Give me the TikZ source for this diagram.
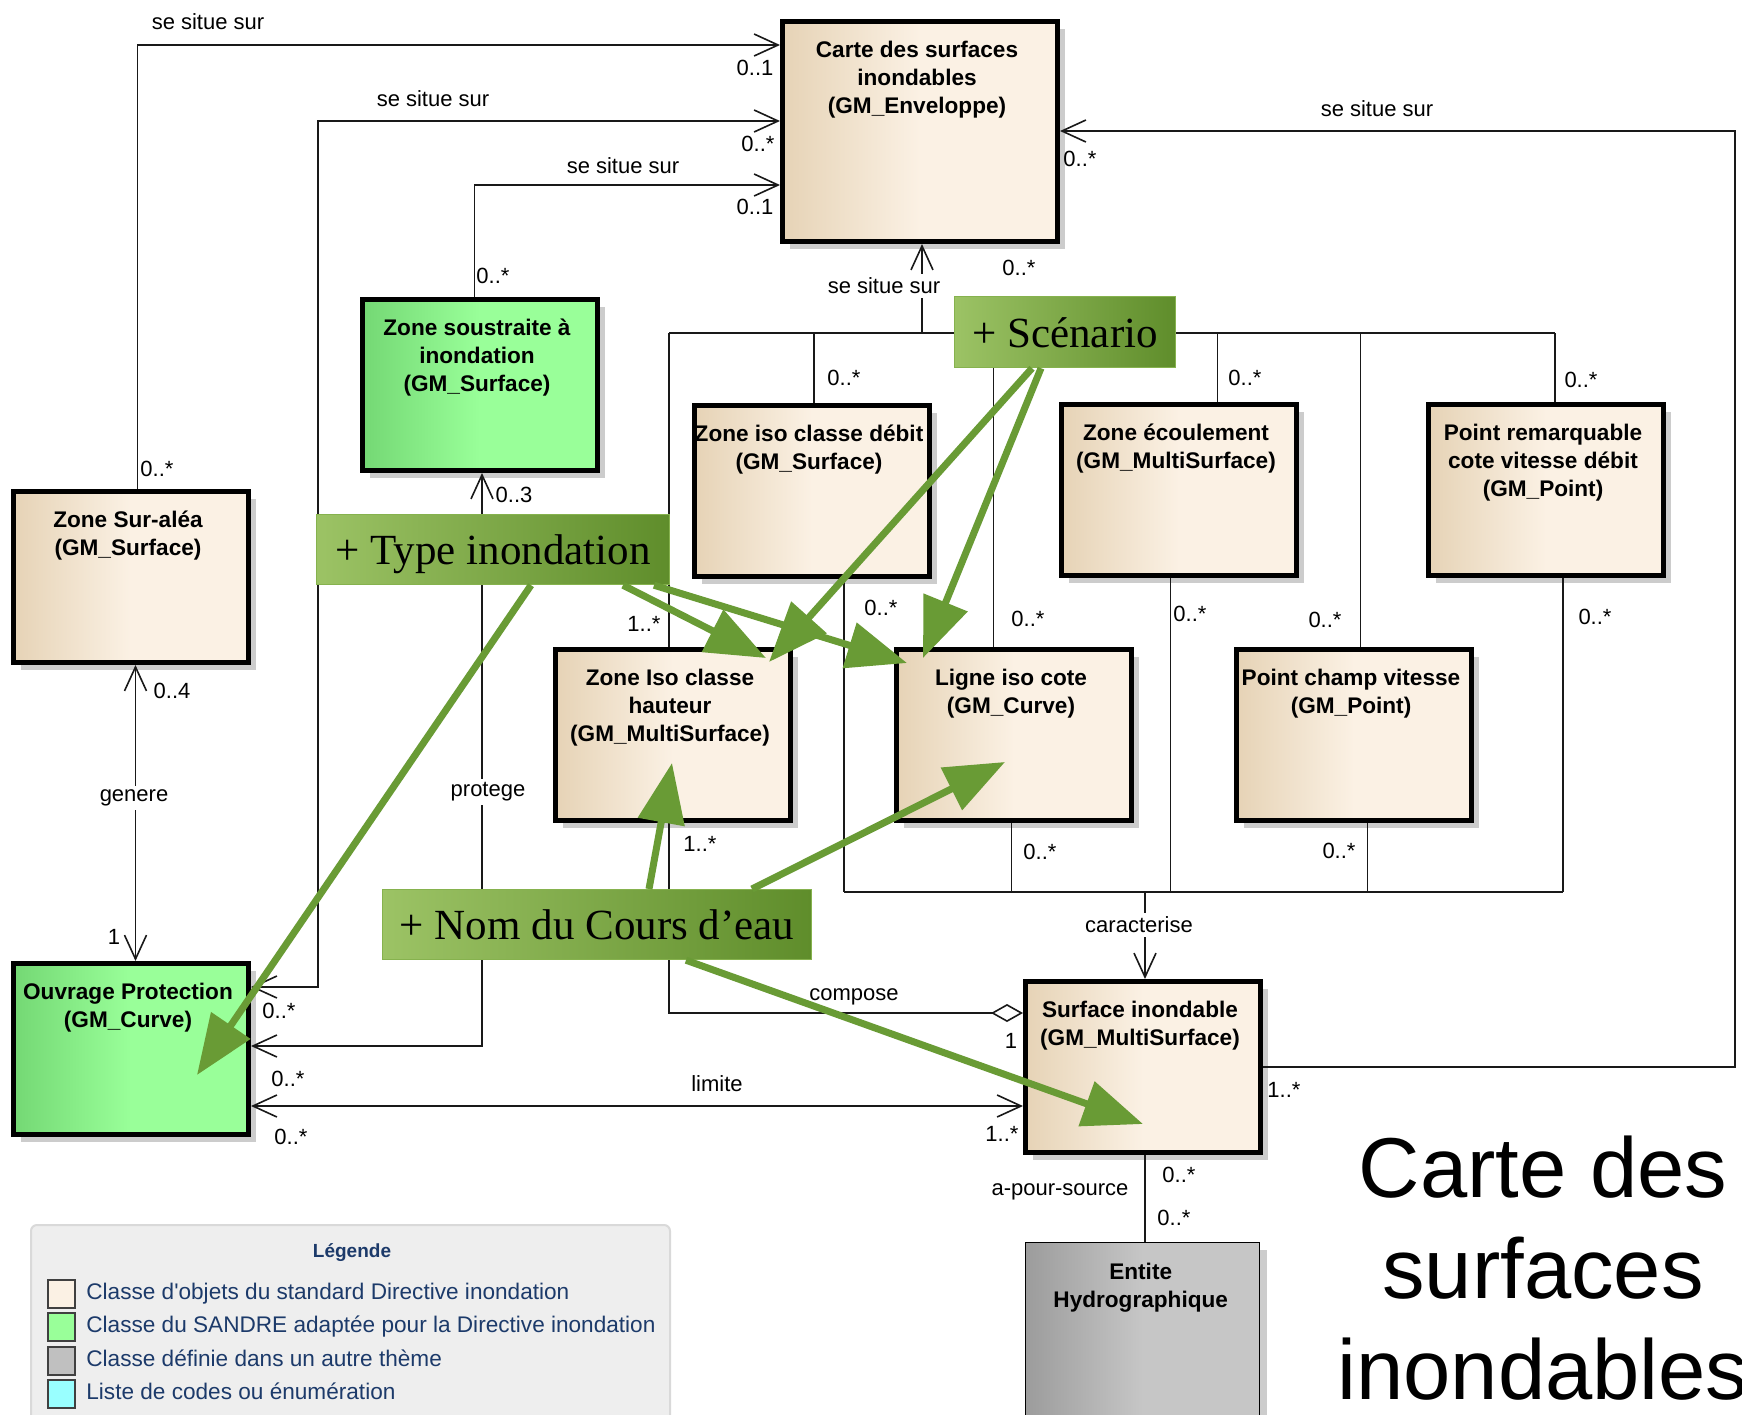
\documentclass[tikz,border=0pt]{standalone}
\usepackage{fontspec}
\setmainfont{Liberation Sans}[Ligatures=TeXOff]
\newfontfamily\greenfont{Liberation Serif}
\usetikzlibrary{arrows.meta,shadows,calc}
\definecolor{tanL}{HTML}{E6D3B6}
\definecolor{cream}{HTML}{FBF1E4}
\definecolor{sgreenL}{HTML}{74D874}
\definecolor{sgreen}{HTML}{99FF99}
\definecolor{grayL}{HTML}{9C9C9C}
\definecolor{grayR}{HTML}{C6C6C6}
\definecolor{annoL}{HTML}{9CC365}
\definecolor{annoR}{HTML}{5F8D2B}
\definecolor{annoEdge}{HTML}{86B24E}
\definecolor{garrow}{HTML}{699B35}
\definecolor{navy}{HTML}{1C3A6A}
\definecolor{legfill}{HTML}{EEEEEE}
\definecolor{legedge}{HTML}{D9D9D9}
\definecolor{cyanbox}{HTML}{99FFFF}
\definecolor{swgray}{HTML}{C0C0C0}
\newcommand\fst{\rule{0pt}{10.5pt}}
\begin{document}
\begin{tikzpicture}[x=0.5pt,y=-0.5pt,
  cls/.style={draw=black, line width=2.5pt, anchor=north west, minimum width=117.5pt, minimum height=85.5pt, inner sep=0pt, left color=tanL, right color=cream, middle color=cream, drop shadow={shadow xshift=3.5pt,shadow yshift=-3.5pt,fill=black!20,opacity=1}},
  clsgreen/.style={cls, left color=sgreenL, right color=sgreen, middle color=sgreen},
  clsgray/.style={cls, line width=0.7pt, left color=grayL, right color=grayR, middle color=grayR},
  ctext/.style={anchor=north, align=center, inner sep=0pt, font=\bfseries\fontsize{11.3}{14}\selectfont},
  lab/.style={font=\fontsize{11}{13}\selectfont, inner sep=1pt},
  labw/.style={lab, fill=white, inner sep=2pt},
  line/.style={draw=black!90, line width=0.8pt},
  uml/.style={line, -{Straight Barb[length=12pt,width=11pt]}},
  uml2/.style={line, {Straight Barb[length=12pt,width=11pt]}-{Straight Barb[length=12pt,width=11pt]}},
  comp/.style={line, -{Diamond[open,length=16pt,width=9pt]}},
  gbox/.style={draw=annoEdge, line width=0.6pt, anchor=north west, inner sep=0pt, left color=annoL, right color=annoR, text height=15pt, text depth=0pt, font=\greenfont\fontsize{21.5}{24}\selectfont, text=black},
  garr/.style={draw=garrow, line width=3.5pt, -{Triangle[length=30pt,width=23pt]}},
  swatch/.style={draw=black!75, line width=0.8pt, minimum width=13.5pt, minimum height=14pt, inner sep=0pt},
  legtext/.style={anchor=west, inner sep=0pt, text=navy, text height=8pt, text depth=2.3pt, font=\fontsize{11.3}{13}\selectfont}
]
\fill[white] (0,0) rectangle (1742,1415);
\useasboundingbox (0,0) rectangle (1742,1415);

% ---------- legend and title
\node[draw=legedge, fill=legfill, line width=1pt, rounded corners=3pt, anchor=north west, minimum width=319.5pt, minimum height=110pt, inner sep=0pt] (legend) at (30,1224) {};
\node[font=\bfseries\fontsize{9.5}{11}\selectfont, text=navy] (legt) at (352,1253) {Légende};
\node[swatch, fill=cream] (sw1) at (61.5,1294) {};
\node[swatch, fill=sgreen] (sw2) at (61.5,1327) {};
\node[swatch, fill=swgray] (sw3) at (61.5,1361) {};
\node[swatch, fill=cyanbox] (sw4) at (61.5,1394) {};
\node[legtext] (lt1) at (86,1294) {Classe d'objets du standard Directive inondation};
\node[legtext] (lt2) at (86,1327) {Classe du SANDRE adaptée pour la Directive inondation};
\node[legtext] (lt3) at (86,1361) {Classe définie dans un autre thème};
\node[legtext] (lt4) at (86,1394) {Liste de codes ou énumération};

\node[anchor=north, align=center, inner sep=0pt, font=\fontsize{42.5}{50.5}\selectfont] (title) at (1543,1133) {\rule{0pt}{32pt}Carte des\\surfaces\\inondables};

% ---------- classes
\node[cls, minimum width=137.5pt, minimum height=110pt] (carte) at (780,19) {};
\node[ctext] (carte-t) at ([xshift=-1.5pt,yshift=-8.5pt]carte.north) {\fst Carte des surfaces\\inondables\\(GM\_Enveloppe)};
\node[clsgreen] (zs) at (360,297) {};
\node[ctext] (zs-t) at ([xshift=-1.5pt,yshift=-8.5pt]zs.north) {\fst Zone soustraite à\\inondation\\(GM\_Surface)};
\node[cls] (zsa) at (11,489) {};
\node[ctext] (zsa-t) at ([xshift=-1.5pt,yshift=-8.5pt]zsa.north) {\fst Zone Sur-aléa\\(GM\_Surface)};
\node[clsgreen] (ouv) at (11,961) {};
\node[ctext] (ouv-t) at ([xshift=-1.5pt,yshift=-8.5pt]ouv.north) {\fst Ouvrage Protection\\(GM\_Curve)};
\node[cls] (zicd) at (692,403) {};
\node[ctext] (zicd-t) at ([xshift=-1.5pt,yshift=-8.5pt]zicd.north) {\fst Zone iso classe débit\\(GM\_Surface)};
\node[cls] (zec) at (1059,402) {};
\node[ctext] (zec-t) at ([xshift=-1.5pt,yshift=-8.5pt]zec.north) {\fst Zone écoulement\\(GM\_MultiSurface)};
\node[cls] (prm) at (1426,402) {};
\node[ctext] (prm-t) at ([xshift=-1.5pt,yshift=-8.5pt]prm.north) {\fst Point remarquable\\cote vitesse débit\\(GM\_Point)};
\node[cls] (zih) at (553,647) {};
\node[ctext] (zih-t) at ([xshift=-1.5pt,yshift=-8.5pt]zih.north) {\fst Zone Iso classe\\hauteur\\(GM\_MultiSurface)};
\node[cls] (lic) at (894,647) {};
\node[ctext] (lic-t) at ([xshift=-1.5pt,yshift=-8.5pt]lic.north) {\fst Ligne iso cote\\(GM\_Curve)};
\node[cls] (pcv) at (1234,647) {};
\node[ctext] (pcv-t) at ([xshift=-1.5pt,yshift=-8.5pt]pcv.north) {\fst Point champ vitesse\\(GM\_Point)};
\node[cls] (surf) at (1023,979) {};
\node[ctext] (surf-t) at ([xshift=-1.5pt,yshift=-8.5pt]surf.north) {\fst Surface inondable\\(GM\_MultiSurface)};
\node[clsgray, minimum width=117pt, minimum height=100pt] (ent) at (1025,1242) {};
\node[ctext] (ent-t) at ([xshift=-1pt,yshift=-8pt]ent.north) {\fst Entite\\Hydrographique};

% ---------- connectors
\coordinate (busL) at (669,333);
\coordinate (busR) at (1555,333);
\coordinate (bbL) at (844,892);
\coordinate (bbR) at (1563,892);
\coordinate (rc) at (1735,131);
\coordinate (compR) at ([yshift=-17pt]surf.north west);
\coordinate (limR) at ([yshift=-63.5pt]surf.north west);
\coordinate (rightR) at ([yshift=-44pt]surf.north east);
\coordinate (carteR) at ([yshift=-56pt]carte.north east);

\draw[uml] ([xshift=3.25pt]zsa.north) |- ([yshift=-13pt]carte.north west);
\draw[uml2] ([yshift=-13pt]ouv.north east) -- ++(33.5pt,0) |- ([yshift=-51pt]carte.north west);
\draw[uml] ([xshift=-2.75pt]zs.north) |- ([yshift=-83pt]carte.north west);

\draw[line] (busL) -- (busR);
\draw[uml] ([xshift=1pt]carte.south |- busL) -- ([xshift=1pt]carte.south);
\draw[line] ([xshift=1pt]zicd.north |- busL) -- ([xshift=1pt]zicd.north);
\draw[line] (busL) -- (busL |- zih.north);
\draw[line] ([xshift=-10.25pt]lic.north |- busL) -- ([xshift=-10.25pt]lic.north);
\draw[line] ([xshift=19.25pt]zec.north |- busL) -- ([xshift=19.25pt]zec.north);
\draw[line] ([xshift=3.25pt]pcv.north |- busL) -- ([xshift=3.25pt]pcv.north);
\draw[line] (busR) -- (busR |- prm.north);

\draw[line] (bbL) -- (bbR);
\draw[line] (bbL |- zicd.south) -- (bbL);
\draw[line] ([xshift=-1.25pt]lic.south) -- ([xshift=-1.25pt]lic.south |- bbL);
\draw[line] ([xshift=-4.25pt]zec.south) -- ([xshift=-4.25pt]zec.south |- bbL);
\draw[line] ([xshift=6.75pt]pcv.south) -- ([xshift=6.75pt]pcv.south |- bbL);
\draw[line] (bbR |- prm.south) -- (bbR);
\draw[uml] ([xshift=1pt]surf.north |- bbL) -- ([xshift=1pt]surf.north);

\draw[comp] (busL |- zih.south) |- (compR);
\draw[uml2] ([xshift=2.25pt]zsa.south) -- ([xshift=2.25pt]ouv.north);
\draw[uml2] ([xshift=1pt]zs.south) |- ([yshift=-42.5pt]ouv.north east);
\draw[uml2] (limR -| ouv.east) -- (limR);
\draw[uml] (rightR) -- (rightR -| rc) |- (carteR);
\draw[line] ([xshift=1pt]surf.south) -- ([xshift=1pt]surf.south |- ent.north);

% ---------- labels
\node[lab] (l1) at (208,22) {se situe sur};
\node[lab] (l2) at (755,68) {0..1};
\node[lab] (l3) at (433,99) {se situe sur};
\node[lab] (l4) at (758,144) {0..*};
\node[lab] (l5) at (623,166) {se situe sur};
\node[lab] (l6) at (755,207) {0..1};
\node[lab] (l7) at (493,276) {0..*};
\node[lab] (l8) at (157,469) {0..*};
\node[lab] (l9) at (514,495) {0..3};
\node[lab] (l10) at (172,691) {0..4};
\node[labw] (l11) at (134,798) {genere};
\node[lab] (l12) at (114,937) {1};
\node[labw] (l13) at (488,792) {protege};
\node[lab] (l14) at (279,1011) {0..*};
\node[lab] (l15) at (288,1079) {0..*};
\node[lab] (l16) at (717,1084) {limite};
\node[lab] (l17) at (291,1137) {0..*};
\node[lab] (l18) at (1002,1134) {1..*};
\node[lab] (l19) at (854,997) {compose};
\node[lab] (l20) at (1011,1041) {1};
\node[lab] (l21) at (1284,1090) {1..*};
\node[lab] (l22) at (1179,1175) {0..*};
\node[lab] (l23) at (1060,1192) {a-pour-source};
\node[lab] (l24) at (1174,1218) {0..*};
\node[labw] (l25) at (1139,925) {caracterise};
\node[lab] (l26) at (1080,159) {0..*};
\node[lab] (l27) at (1019,268) {0..*};
\node[labw] (l28) at (884,286) {se situe sur};
\node[lab] (l29) at (1377,109) {se situe sur};
\node[lab] (l30) at (844,378) {0..*};
\node[lab] (l31) at (1245,378) {0..*};
\node[lab] (l32) at (1581,380) {0..*};
\node[lab] (l33) at (644,624) {1..*};
\node[lab] (l34) at (881,608) {0..*};
\node[lab] (l35) at (1028,619) {0..*};
\node[lab] (l36) at (1190,614) {0..*};
\node[lab] (l37) at (1325,620) {0..*};
\node[lab] (l38) at (1595,617) {0..*};
\node[lab] (l39) at (700,844) {1..*};
\node[lab] (l40) at (1040,852) {0..*};
\node[lab] (l41) at (1339,851) {0..*};

% ---------- green annotations
\node[gbox, minimum width=176.5pt, minimum height=35pt] (ti) at (316,514) {+ Type inondation};
\node[gbox, minimum width=110.5pt, minimum height=35.5pt] (sc) at (954,296) {+ Scénario};
\node[gbox, minimum width=214.5pt, minimum height=35pt] (nc) at (382,889) {+ Nom du Cours d’eau};

\draw[garr] ($(ti.south west)+(215,0)$) -- ($(ouv.north west)+(186,114)$);
\draw[garr] ($(ti.south west)+(307,0)$) -- ($(zih.north west)+(213,11)$);
\draw[garr] ($(ti.south west)+(338,0)$) -- ($(lic.north west)+(13,16)$);
\draw[garr] ($(sc.south west)+(78,0)$) -- ($(zih.north west)+(216,15)$);
\draw[garr] ($(sc.south west)+(87,0)$) -- ($(lic.north west)+(29,11)$);
\draw[garr] ($(nc.north west)+(267,0)$) -- ($(zih.north west)+(119,116)$);
\draw[garr] ($(nc.north west)+(370,0)$) -- ($(lic.north west)+(111,115)$);
\draw[garr] ($(nc.south west)+(304,0)$) -- ($(surf.north west)+(120,145)$);
\end{tikzpicture}
\end{document}
